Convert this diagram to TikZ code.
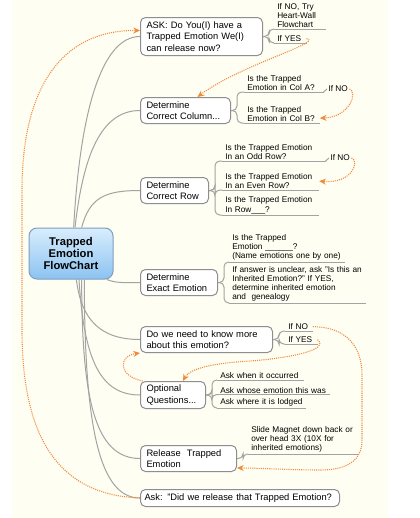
\documentclass[tikz,border=0pt]{standalone}
\usepackage{fontspec}
\setmainfont{Liberation Sans}
\usetikzlibrary{arrows.meta, positioning}
\definecolor{paper}{HTML}{FFFEF3}
\definecolor{stemgray}{HTML}{A3A3A3}
\definecolor{boxgray}{HTML}{8E8E8E}
\definecolor{linkorange}{HTML}{EE8A3A}
\definecolor{hubtop}{HTML}{D8EDFD}
\definecolor{hubbottom}{HTML}{8CC3F1}
\definecolor{hubedge}{HTML}{7E9EBE}

\tikzset{
  hubbox/.style={draw=hubedge, line width=0.75pt, top color=hubtop, bottom color=hubbottom, rounded corners=6pt, minimum width=63pt, minimum height=38.25pt, align=center, font=\bfseries\fontsize{8.4}{8.8}\selectfont},
  topic/.style={draw=boxgray, fill=white, line width=0.75pt, rounded corners=3.75pt, anchor=north west, align=left, font=\fontsize{7}{8.6}\selectfont, inner xsep=4.5pt, inner ysep=1.5pt},
  leaf/.style={anchor=south west, align=left, font=\fontsize{6.2}{6.8}\selectfont, inner xsep=2.25pt, inner ysep=0.8pt},
  tag/.style={anchor=west, font=\fontsize{6.2}{6.8}\selectfont, inner xsep=1pt, inner ysep=0.8pt},
  stem/.style={draw=stemgray, line width=0.75pt},
  fork/.style={stem, rounded corners=3.5pt},
  jump/.style={draw=linkorange, line width=0.8pt, dash pattern=on 0.8pt off 0.8pt, -{Stealth[length=5pt,width=4.5pt]}},
}

\begin{document}
\begin{tikzpicture}[x=0.75pt, y=-0.75pt]
  \useasboundingbox (0,0) rectangle (420,518);
  \fill[paper] (12,0) rectangle (388,518);

  % central topic
  \node[hubbox] (hub) at (71,253.5) {Trapped\\Emotion\\FlowChart};

  % main topics
  \node[topic, text width=82.5pt, minimum height=28.5pt] (ask) at (140,17) {ASK: Do You(I) have a\\Trapped Emotion We(I)\\can release now?};
  \node[topic, text width=58.5pt, minimum height=19.5pt] (column) at (140,97) {Determine\\Correct Column...};
  \node[topic, text width=42pt, minimum height=19.5pt] (row) at (140,177) {Determine\\Correct Row};
  \node[topic, text width=48.75pt, minimum height=19.5pt] (exact) at (140,269) {Determine\\Exact Emotion};
  \node[topic, text width=90pt, minimum height=19.5pt] (needmore) at (140,326) {Do we need to know more\\about this emotion?};
  \node[topic, text width=39.75pt, minimum height=20.25pt] (optional) at (140,381) {Optional\\Questions...};
  \node[topic, text width=63pt, minimum height=19.5pt] (release) at (140,445) {Release\ \ Trapped\\Emotion};
  \node[topic, text width=143.25pt, minimum height=12.75pt, inner xsep=3pt] (confirm) at (140,489) {Ask: "Did we release that Trapped Emotion?};

  % subtopics
  \node[leaf, text width=33.75pt] (askno) at (274,29) {If NO, Try\\Heart-Wall\\Flowchart};
  \node[leaf, text width=19.5pt] (askyes) at (274,43) {If YES};
  \node[leaf, text width=54.75pt] (cola) at (244,92) {Is the Trapped\\Emotion in Col A?};
  \node[leaf, text width=52pt] (colb) at (244,123) {Is the Trapped\\Emotion in Col B?};
  \node[tag] (noa) at (327,89) {If NO};
  \node[leaf, text width=72.75pt] (oddrow) at (222,161) {Is the Trapped Emotion\\In an Odd Row?};
  \node[leaf, text width=68pt] (evenrow) at (222,190) {Is the Trapped Emotion\\In an Even Row?};
  \node[leaf, text width=68pt] (rowblank) at (222,215) {Is the Trapped Emotion\\In Row\_\_\_?};
  \node[tag] (noodd) at (329,158) {If NO};
  \node[leaf, text width=82pt] (named) at (229,262) {Is the Trapped\\Emotion \_\_\_\_\_\_?\\(Name emotions one by one)};
  \node[leaf, text width=98pt] (inherited) at (229,303) {If answer is unclear, ask "Is this an\\Inherited Emotion?" If YES,\\determine inherited emotion\\and\ \ genealogy};
  \node[leaf, text width=16pt] (needno) at (285,331) {If NO};
  \node[leaf, text width=19.5pt] (needyes) at (285,344) {If YES};
  \node[leaf, text width=60pt] (occurred) at (217,380) {Ask when it occurred};
  \node[leaf, text width=80pt] (whose) at (217,394.5) {Ask whose emotion this was};
  \node[leaf, text width=62pt] (lodged) at (217,408) {Ask where it is lodged};
  \node[leaf, text width=78pt] (slide) at (248,454) {Slide Magnet down back or\\over head 3X (10X for\\inherited emotions)};

  % branches from the central topic
  \draw[stem] ([xshift=2pt]hub.north) .. controls +(6,-110) and +(-40,0) .. (ask.west);
  \draw[stem] ([xshift=3pt]hub.north) .. controls +(8,-70) and +(-40,0) .. (column.west);
  \draw[stem] ([xshift=8pt]hub.north) .. controls +(8,-30) and +(-35,0) .. (row.west);
  \draw[stem] ([xshift=-5pt]hub.south east) .. controls +(10,4) and +(-15,0) .. (exact.west);
  \draw[stem] ([xshift=4pt]hub.south) .. controls +(5,40) and +(-40,0) .. (needmore.west);
  \draw[stem] ([xshift=6pt]hub.south) .. controls +(5,80) and +(-40,0) .. (optional.west);
  \draw[stem] ([xshift=8pt]hub.south) .. controls +(0,120) and +(-45,0) .. (release.west);
  \draw[stem] ([xshift=10pt]hub.south) .. controls +(0,150) and +(-40,0) .. (confirm.west);

  % branches to the subtopics
  \foreach \from/\to in {ask/askno, ask/askyes, column/cola, column/colb, row/oddrow, row/evenrow, row/rowblank, exact/named, exact/inherited, needmore/needno, needmore/needyes, optional/occurred, optional/whose, optional/lodged, release/slide}
    \draw[fork] (\from.east) -- ++(6,0) |- (\to.south west);
  \foreach \n in {askno, askyes, cola, colb, oddrow, evenrow, rowblank, named, inherited, needno, needyes, occurred, whose, lodged, slide}
    \draw[stem] (\n.south west) -- (\n.south east);
  \draw[stem] (cola.south east) -- (noa.west);
  \draw[stem] (oddrow.south east) -- (noodd.west);

  % dotted jumps
  \draw[jump] (askyes.east) .. controls (325,42) and (240,65) .. ([xshift=9pt]column.north);
  \draw[jump] (noa.east) .. controls (358,92) and (350,117) .. ([yshift=-3pt]colb.east);
  \draw[jump] (noodd.east) .. controls (360,161) and (352,184) .. (evenrow.east);
  \draw[jump] (needyes.east) .. controls (330,350) and (290,358) .. (250,361) .. controls (215,363) and (190,368) .. ([xshift=7.5pt]optional.north);
  \draw[jump] (needno.east) .. controls (345,327) and (362,345) .. (362,375) -- (362,440) .. controls (362,462) and (345,470) .. (320,470) .. controls (290,470) and (260,468) .. ([yshift=3pt]release.south east);
  \draw[jump] ([xshift=2pt]optional.north west) .. controls (118,376) and (118,356) .. (needmore.south west);
  \draw[jump] (confirm.west) .. controls (60,495) and (22,440) .. (22,330) -- (22,190) .. controls (22,90) and (60,30) .. ([yshift=4.5pt]ask.west);
\end{tikzpicture}
\end{document}
